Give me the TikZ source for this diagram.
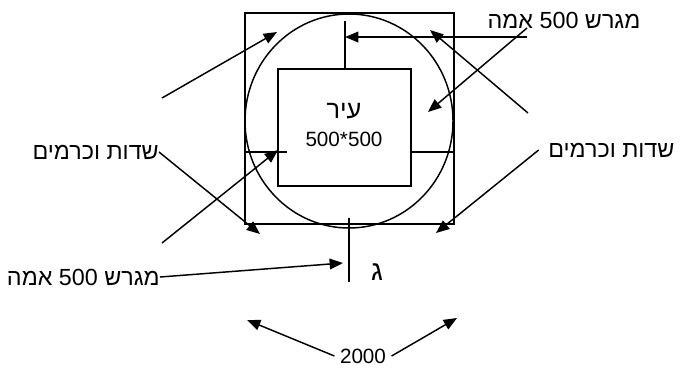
\documentclass[tikz,border=0pt]{standalone}
\usepackage{fontspec}
\setmainfont{Liberation Sans}
\newfontfamily\hebfont[Script=Hebrew]{Liberation Sans}
\TeXXeTstate=1
\usetikzlibrary{arrows.meta,positioning}
\definecolor{ink}{HTML}{000000}
\newcommand{\hebtext}[1]{{\hebfont\beginR #1\endR}}
\tikzset{
  wall/.style={
    draw=ink,
    line width=1.1pt
  },
  pointer/.style={
    -{Triangle[length=10pt,width=8pt]},
    draw=ink,
    line width=1.1pt
  },
  tick/.style={
    draw=ink,
    line width=1.1pt
  },
  labeltext/.style={
    font=\fontsize{17.5}{20}\selectfont,
    text=ink,
    inner sep=0pt
  },
  smalltext/.style={
    labeltext,
    font=\fontsize{15.5}{18}\selectfont
  }
}

\begin{document}
\begin{tikzpicture}[x=0.75pt,y=-0.75pt]
  \useasboundingbox (0,0) rectangle (685,369);

  % ============================================================
  % Outer square, circle and the city square
  % ============================================================
  \draw[wall] (245,13) rectangle (454,224);
  \draw[wall] (349,121) ellipse [x radius=78pt, y radius=80.25pt];
  \draw[wall] (278,69) rectangle (411,186);

  \node[smalltext, align=center] (city) at (344,125)
       {{\fontsize{19}{20}\selectfont\hebtext{עיר}}\\[3pt]500*500};

  % short ticks from the city to the edges
  \coordinate (tkTopA) at (345,21);
  \coordinate (tkTopB) at (345,69);
  \coordinate (tkLeftA) at (245,152);
  \coordinate (tkLeftB) at (287,152);
  \coordinate (tkRightA) at (411,152);
  \coordinate (tkRightB) at (454,152);
  \coordinate (tkBotA) at (349,218);
  \coordinate (tkBotB) at (349,282);
  \draw[tick] (tkTopA) -- (tkTopB);
  \draw[tick] (tkLeftA) -- (tkLeftB);
  \draw[tick] (tkRightA) -- (tkRightB);
  \draw[tick] (tkBotA) -- (tkBotB);

  % ============================================================
  % Labels
  % ============================================================
  \node[labeltext] (lblTop) at (564,20) {\hebtext{מגרש \beginL 500\endL{} אמה}};
  \node[labeltext, anchor=east] (lblLeft) at (159,152) {\hebtext{שדות וכרמים}};
  \node[labeltext, anchor=west] (lblRight) at (548,150) {\hebtext{שדות וכרמים}};
  \node[labeltext, anchor=east] (lblBot) at (160,277) {\hebtext{מגרש \beginL 500\endL{} אמה}};
  \node[labeltext, font=\fontsize{21}{22}\selectfont] (gimel) at (377,272) {\hebtext{ג}};
  \node[smalltext] (total) at (363,356) {2000};

  % ============================================================
  % Arrow tips and free ends
  % ============================================================
  \coordinate (tipTop) at (345,37);
  \coordinate (tipRing) at (428,112);
  \coordinate (tipNE) at (430,30);
  \coordinate (tipSE) at (436,233);
  \coordinate (tipNW) at (277,32);
  \coordinate (tipSW) at (260,234);
  \coordinate (tipCity) at (278,150);
  \coordinate (tipBot) at (343,263);
  \coordinate (tipDimL) at (247,320);
  \coordinate (tipDimR) at (457,318);

  \coordinate (fromTopA) at (527,37);
  \coordinate (fromTopB) at (527,28);
  \coordinate (fromRightA) at (528,113);
  \coordinate (fromNW) at (162,98);
  \coordinate (fromCity) at (162,243);

  % ============================================================
  % Connectors
  % ============================================================
  \draw[pointer] (fromTopA) -- (tipTop);
  \draw[pointer] (fromTopB) -- (tipRing);
  \draw[pointer] (fromRightA) -- (tipNE);
  \draw[pointer] ([xshift=-7pt]lblRight.west) -- (tipSE);
  \draw[pointer] (fromNW) -- (tipNW);
  \draw[pointer] (lblLeft.east) -- (tipSW);
  \draw[pointer] (fromCity) -- (tipCity);
  \draw[pointer] (lblBot.east) -- (tipBot);
  \draw[pointer] ([xshift=-4pt]total.west) -- (tipDimL);
  \draw[pointer] ([xshift=4pt]total.east) -- (tipDimR);

\end{tikzpicture}
\end{document}
